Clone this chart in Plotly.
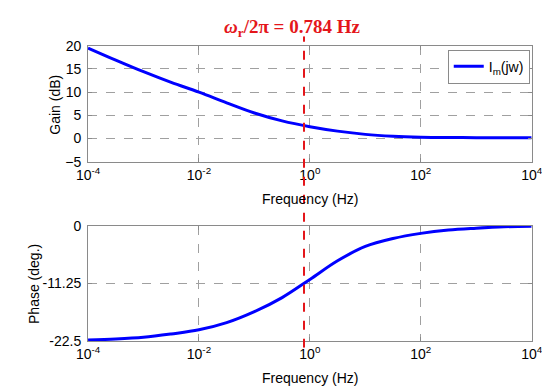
import plotly.graph_objects as go

# ---- data ----
freq_hz = [1e-4, 3.16e-4, 1e-3, 3.16e-3, 1e-2, 3.16e-2, 1e-1, 3.16e-1,
           1e0, 3.16e0, 1e1, 3.16e1, 1e2, 3.16e2, 1e3, 3.16e3, 1e4]
gain_db = [19.5, 16.9, 14.4, 12.1, 10.0, 7.7, 5.5, 3.8,
           2.55, 1.6, 0.9, 0.5, 0.3, 0.22, 0.2, 0.2, 0.2]
phase_deg = [-22.3, -22.1, -21.75, -21.1, -20.3, -18.9, -16.75, -14.0,
             -10.45, -6.8, -4.0, -2.45, -1.44, -0.78, -0.42, -0.15, -0.05]
resonance_hz = 0.784
series_name = "I<sub>m</sub>(jw)"
x_tick_vals = [1e-4, 1e-2, 1e0, 1e2, 1e4]
x_tick_text = ["10<sup>-4</sup>", "10<sup>-2</sup>", "10<sup>0</sup>",
               "10<sup>2</sup>", "10<sup>4</sup>"]
gain_ticks = [-5, 0, 5, 10, 15, 20]
phase_ticks = [-22.5, -11.25, 0]
phase_tick_text = ["-22.5", "-11.25", "0"]

W, H = 550, 390
FONT = "Arial, Liberation Sans, sans-serif"
FRAME = "#8a8a8a"
GRID = "#a0a0a0"
BLUE = "#0000ff"
RED = "#e4161b"

def py(p):  # pixel from top -> paper y
    return 1 - p / H

def px(p):
    return p / W

fig = go.Figure()
fig.add_trace(go.Scatter(x=freq_hz, y=gain_db, mode="lines", name=series_name,
                         line=dict(color=BLUE, width=3, shape="spline"),
                         xaxis="x", yaxis="y"))
fig.add_trace(go.Scatter(x=freq_hz, y=phase_deg, mode="lines", showlegend=False,
                         line=dict(color=BLUE, width=3, shape="spline"),
                         xaxis="x2", yaxis="y2"))
# red dashed resonance marker spanning both panels (own overlay axes)
fig.add_trace(go.Scatter(x=[resonance_hz, resonance_hz], y=[0, 1], mode="lines",
                         showlegend=False, hoverinfo="skip",
                         line=dict(color=RED, width=2, dash="dash"),
                         xaxis="x3", yaxis="y3"))

xdom = [px(71), px(534)]
common_x = dict(type="log", range=[-4, 4], tickvals=x_tick_vals, ticktext=x_tick_text,
                showline=True, linecolor=FRAME, linewidth=1, mirror="ticks",
                ticks="inside", ticklen=4, tickcolor=FRAME,
                showgrid=True, gridcolor=GRID, griddash="dash", gridwidth=1,
                zeroline=False, tickfont=dict(family=FONT, size=14, color="black"),
                domain=xdom)
common_y = dict(showline=True, linecolor=FRAME, linewidth=1, mirror="ticks",
                ticks="inside", ticklen=4, tickcolor=FRAME,
                showgrid=True, gridcolor=GRID, griddash="dash", gridwidth=1,
                zeroline=False, tickfont=dict(family=FONT, size=14, color="black"),
                ticklabelstandoff=3)

fig.update_layout(
    width=W, height=H,
    margin=dict(l=0, r=0, t=0, b=0),
    paper_bgcolor="white", plot_bgcolor="rgba(0,0,0,0)",
    xaxis=dict(**common_x, anchor="y"),
    yaxis=dict(**common_y, range=[-5, 20], tickvals=gain_ticks,
               domain=[py(152), py(31)], anchor="x"),
    xaxis2=dict(**common_x, anchor="y2"),
    yaxis2=dict(**common_y, range=[-22.5, 0], tickvals=phase_ticks,
                ticktext=phase_tick_text, domain=[py(339), py(219)], anchor="x2"),
    xaxis3=dict(type="log", range=[-4, 4], domain=xdom, visible=False,
                showgrid=False, zeroline=False, anchor="y3"),
    yaxis3=dict(range=[0, 1], domain=[py(346), py(21)], visible=False,
                showgrid=False, zeroline=False, anchor="x3"),
    legend=dict(x=px(532), y=py(35), xanchor="right", yanchor="top",
                bgcolor="white", bordercolor=FRAME, borderwidth=1,
                font=dict(family=FONT, size=14, color="black"),
                itemwidth=30, tracegroupgap=0),
    showlegend=True,
)

ann_font = dict(family=FONT, size=14, color="black")
fig.add_annotation(text="<b><i>ω</i><sub>r</sub>/2π = %.3f Hz</b>" % resonance_hz,
                   xref="paper", yref="paper", x=px(284), y=py(13),
                   showarrow=False, xanchor="center", yanchor="middle",
                   font=dict(family="Times New Roman, Liberation Serif, serif",
                             size=19, color=RED))
fig.add_annotation(text="Frequency (Hz)", xref="paper", yref="paper",
                   x=px(303), y=py(191), showarrow=False, yanchor="middle",
                   font=ann_font)
fig.add_annotation(text="Frequency (Hz)", xref="paper", yref="paper",
                   x=px(303), y=py(378), showarrow=False, yanchor="middle",
                   font=ann_font)
fig.add_annotation(text="Gain (dB)", xref="paper", yref="paper",
                   x=px(37), y=py(92), showarrow=False, textangle=-90,
                   xanchor="center", yanchor="middle", font=ann_font)
fig.add_annotation(text="Phase (deg.)", xref="paper", yref="paper",
                   x=px(14), y=py(279), showarrow=False, textangle=-90,
                   xanchor="center", yanchor="middle", font=ann_font)

fig.write_html("out.html")
